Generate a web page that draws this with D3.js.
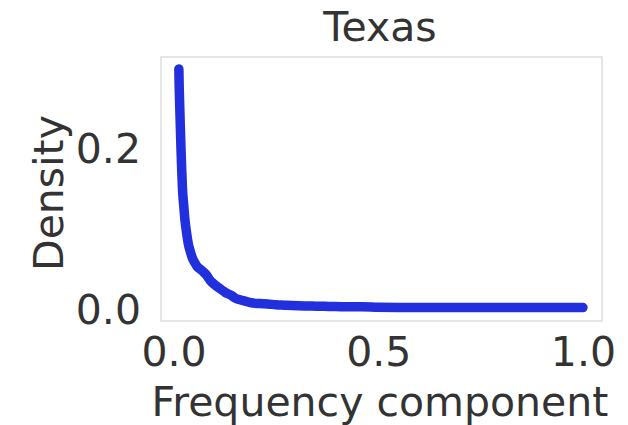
<!DOCTYPE html>
<html>
<head>
<meta charset="utf-8">
<script src="https://cdn.jsdelivr.net/npm/d3@7"></script>
<style>
  body { margin: 0; background: #fff; }
  text { font-family: "DejaVu Sans", sans-serif; fill: #333; }
</style>
</head>
<body>
<script>
// frequency component (x) and density (y)
var freq = [0.013, 0.014, 0.016, 0.018, 0.020, 0.022, 0.025, 0.028, 0.032, 0.036,
  0.041, 0.046, 0.052, 0.058, 0.065, 0.072, 0.080, 0.088, 0.095, 0.102,
  0.110, 0.118, 0.126, 0.134, 0.142, 0.150, 0.160, 0.175, 0.190, 0.210,
  0.230, 0.250, 0.270, 0.290, 0.320, 0.350, 0.380, 0.420, 0.460, 0.500,
  0.600, 0.700, 0.800, 0.900, 1.000];
var density = [0.301, 0.275, 0.240, 0.205, 0.175, 0.150, 0.130, 0.112, 0.096, 0.083,
  0.073, 0.065, 0.059, 0.054, 0.051, 0.048, 0.044, 0.038, 0.034, 0.031,
  0.028, 0.025, 0.022, 0.020, 0.018, 0.015, 0.013, 0.011, 0.009, 0.008,
  0.0075, 0.0065, 0.006, 0.0055, 0.005, 0.0048, 0.0045, 0.004, 0.0042, 0.0035,
  0.003, 0.003, 0.003, 0.003, 0.003];
var xTicks = [0.0, 0.5, 1.0];
var yTicks = [0.0, 0.2];

var W = 628, H = 425;
var frame = { left: 161, right: 602, top: 57, bottom: 321 };
var fontSize = 41;

var svg = d3.select("body").append("svg")
  .attr("width", W)
  .attr("height", H);

var xScale = d3.scaleLinear().domain([-0.0306, 1.0465]).range([frame.left, frame.right]);
var yScale = d3.scaleLinear().domain([-0.01375, 0.316]).range([frame.bottom, frame.top]);

// plot frame
svg.append("rect")
  .attr("x", frame.left)
  .attr("y", frame.top)
  .attr("width", frame.right - frame.left)
  .attr("height", frame.bottom - frame.top)
  .attr("fill", "none")
  .attr("stroke", "#dedede")
  .attr("stroke-width", 1.5);

var xAxis = d3.axisBottom(xScale)
  .tickValues(xTicks)
  .tickFormat(d3.format(".1f"))
  .tickSize(0)
  .tickPadding(16);

svg.append("g")
  .attr("class", "x axis")
  .attr("transform", "translate(0," + frame.bottom + ")")
  .call(xAxis)
  .call(g => g.select(".domain").remove())
  .selectAll("text")
    .attr("font-size", fontSize)
    .attr("font-family", "DejaVu Sans");

var yAxis = d3.axisLeft(yScale)
  .tickValues(yTicks)
  .tickFormat(d3.format(".1f"))
  .tickSize(0)
  .tickPadding(20);

svg.append("g")
  .attr("class", "y axis")
  .attr("transform", "translate(" + frame.left + ",0)")
  .call(yAxis)
  .call(g => g.select(".domain").remove())
  .selectAll("text")
    .attr("font-size", fontSize)
    .attr("font-family", "DejaVu Sans");

var points = freq.map((f, i) => ({ x: f, y: density[i] }));

svg.append("path")
  .datum(points)
  .attr("fill", "none")
  .attr("stroke", "#2130dc")
  .attr("stroke-width", 9.5)
  .attr("stroke-linecap", "round")
  .attr("stroke-linejoin", "round")
  .attr("d", d3.line()
    .curve(d3.curveMonotoneX)
    .x(d => xScale(d.x))
    .y(d => yScale(d.y)));

// title and axis labels
svg.append("text")
  .attr("x", 380)
  .attr("y", 41)
  .attr("text-anchor", "middle")
  .attr("font-size", fontSize)
  .text("Texas");

svg.append("text")
  .attr("x", 380)
  .attr("y", 416)
  .attr("text-anchor", "middle")
  .attr("font-size", fontSize)
  .text("Frequency component");

svg.append("text")
  .attr("transform", "translate(63,193) rotate(-90)")
  .attr("text-anchor", "middle")
  .attr("font-size", fontSize)
  .text("Density");
</script>
</body>
</html>
